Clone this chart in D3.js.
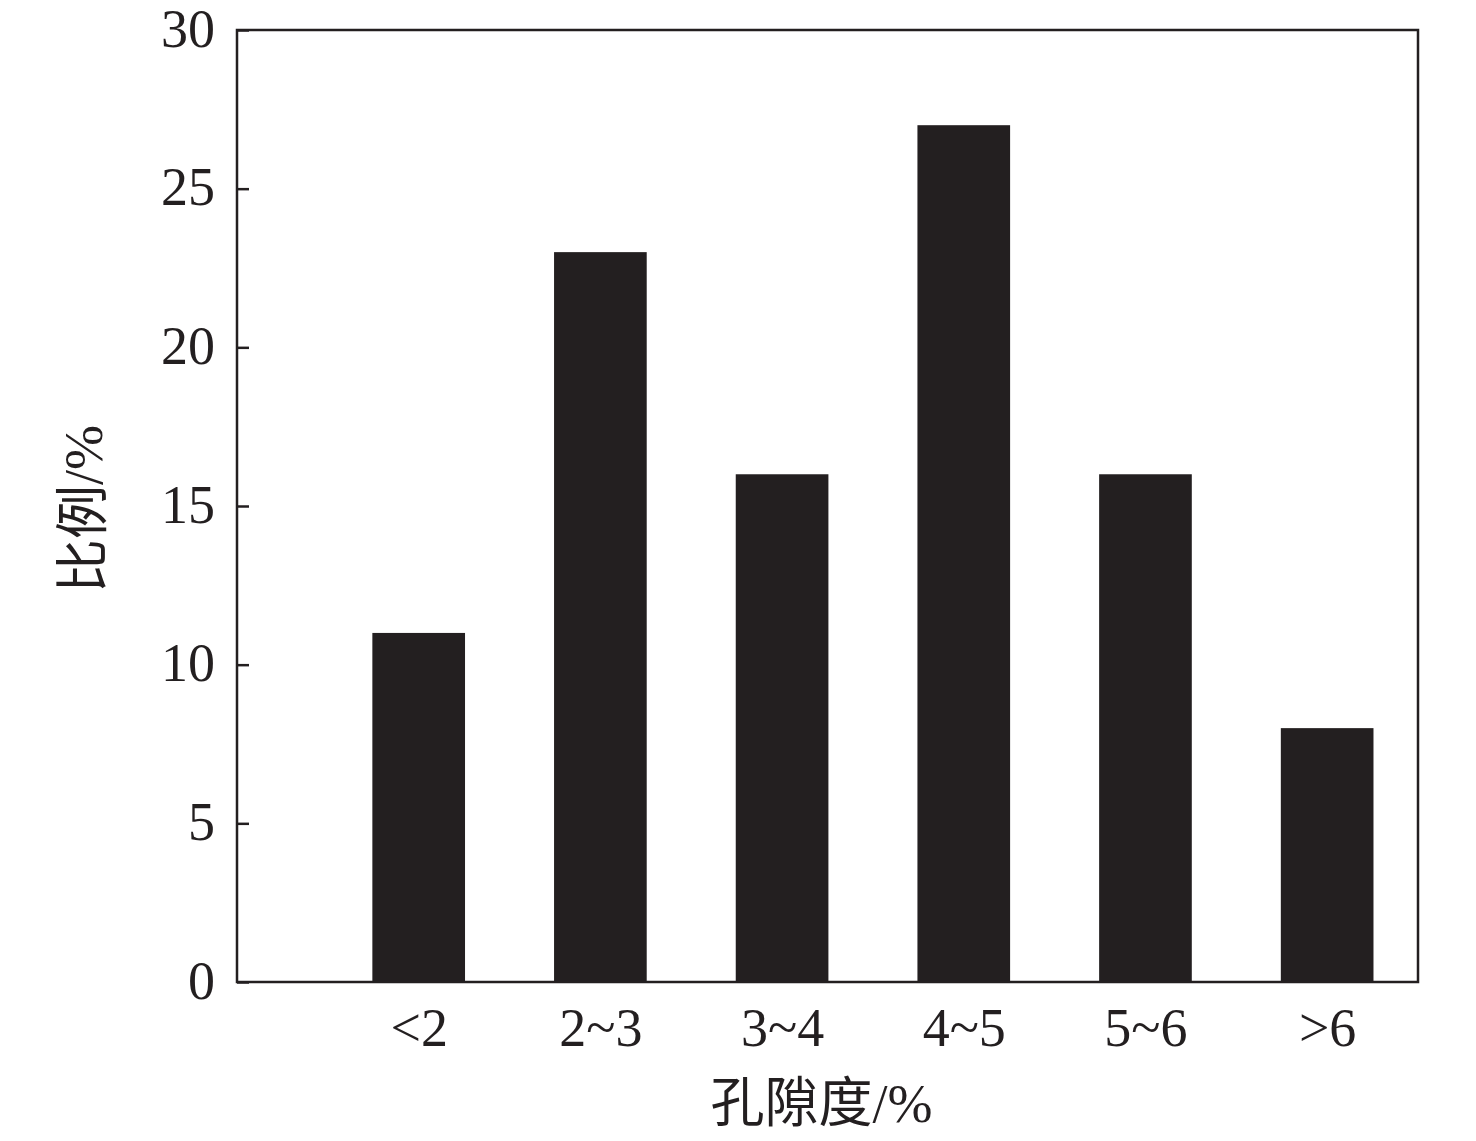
<!DOCTYPE html>
<meta charset="utf-8">
<script src="https://d3js.org/d3.v7.min.js"></script>
<style>
body { margin: 0; background: #fff; }
svg text { font-family: "Liberation Serif", "Noto Sans CJK SC", serif; }
.axis text { font-size: 54px; fill: #231f20; }
.axis path { display: none; }
.axis line { stroke: #231f20; stroke-width: 2.5px; }
.title { font-size: 54px; fill: #231f20; }
</style>
<body></body>
<script>
var categories = ["<2", "2~3", "3~4", "4~5", "5~6", ">6"];
var values = [11, 23, 16, 27, 16, 8];
var yTicks = [0, 5, 10, 15, 20, 25, 30];

var margin = {top: 30, right: 58, bottom: 159, left: 237};
var width = 1476 - margin.left - margin.right,
    height = 1141 - margin.top - margin.bottom;

var svg = d3.select("body").append("svg")
    .attr("width", 1476)
    .attr("height", 1141)
  .append("g")
    .attr("transform", "translate(" + margin.left + "," + margin.top + ")");

// slots 1..6, an empty slot at 0
var xScale = d3.scaleLinear().domain([0, 6.5]).range([0, width]);
var yScale = d3.scaleLinear().domain([0, 30]).range([height, 0]);
var barW = xScale(0.51) - xScale(0);

svg.selectAll(".bar")
  .data(values).enter().append("rect")
  .attr("class", "bar")
  .attr("x", function(d, i) { return xScale(i + 1) - barW / 2; })
  .attr("y", function(d) { return yScale(d); })
  .attr("width", barW)
  .attr("height", function(d) { return height - yScale(d); })
  .style("fill", "#231f20");

var yAxis = d3.axisLeft(yScale).tickValues(yTicks).tickSize(-12).tickPadding(22);
svg.append("g").attr("class", "y axis").call(yAxis)
  .attr("font-family", null)
  .selectAll("text").attr("dy", "0.3em");

var xAxis = d3.axisBottom(xScale)
  .tickValues(d3.range(1, 7))
  .tickFormat(function(d) { return categories[d - 1]; })
  .tickSize(0).tickPadding(26);
svg.append("g").attr("class", "x axis")
  .attr("transform", "translate(0," + height + ")")
  .call(xAxis)
  .attr("font-family", null);

// frame
svg.append("rect")
  .attr("width", width).attr("height", height)
  .style("fill", "none").style("stroke", "#231f20").style("stroke-width", 2.5);

svg.append("text").attr("class", "title")
  .attr("x", width / 2 - 6).attr("y", height + 140)
  .attr("text-anchor", "middle")
  .text("孔隙度/%");

svg.append("text").attr("class", "title")
  .attr("transform", "translate(" + (-135) + "," + (height / 2 + 3) + ") rotate(-90)")
  .attr("text-anchor", "middle")
  .text("比例/%");
</script>
